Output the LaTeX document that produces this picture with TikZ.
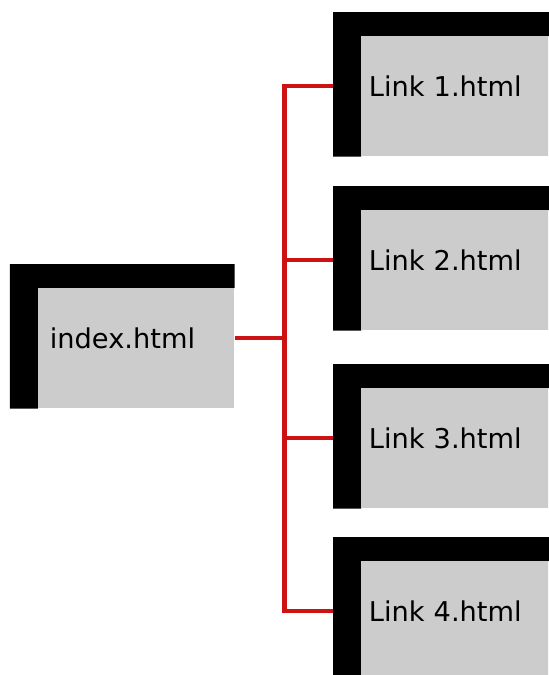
\documentclass[tikz,border=0pt]{standalone}
\usepackage{fontspec}
\setmainfont{DejaVu Sans}
\usetikzlibrary{backgrounds}
\definecolor{linkred}{rgb}{0.800000,0.070000,0.070000}%
\tikzset{
  page/.style={anchor=north west, fill=gray!40, align=left, inner ysep=0pt,
    text height=1.2cm, text depth=1.2cm, font=\fontsize{15.5}{18}\selectfont},
  wire/.style={draw=linkred, line width=0.09cm, line join=miter}
}
\begin{document}
\begin{tikzpicture}
% picture frame
\clip (0,0) rectangle (10.96,-13.5);

% pages
\node [page, text width=3.46cm, inner xsep=0.23cm] (index) at (0.76,-5.76) {index.html};
\foreach \i/\y in {1/-0.72, 2/-4.20, 3/-7.76, 4/-11.22}
  \node [page, text width=4.0cm, inner xsep=0.15cm] (link\i) at (7.22,\y) {Link \i.html};

% connector ends, just above the text baseline
\foreach \n in {index,link1,link2,link3,link4} {
  \coordinate (\n-in) at ([yshift=0.21cm]\n.base west);
  \coordinate (\n-out) at ([yshift=0.21cm]\n.base east);
}

\begin{scope}[on background layer]
% red connectors
\path (index-out) ++(1.0,0) coordinate (hub);
\draw [wire] (index-out) -- (hub);
\draw [wire] (link1-in) -| (hub) |- (link4-in);
\draw [wire] (hub |- link2-in) -- (link2-in);
\draw [wire] (hub |- link3-in) -- (link3-in);
% black page corners
\foreach \n in {index,link1,link2,link3,link4}
  \fill [black] ([shift={(-0.56,0.48)}]\n.north west) -- ([yshift=0.48cm]\n.north east)
    -- (\n.north east) -- (\n.north west) -- (\n.south west)
    -- ([xshift=-0.56cm]\n.south west) -- cycle;
\end{scope}
\end{tikzpicture}
\end{document}
